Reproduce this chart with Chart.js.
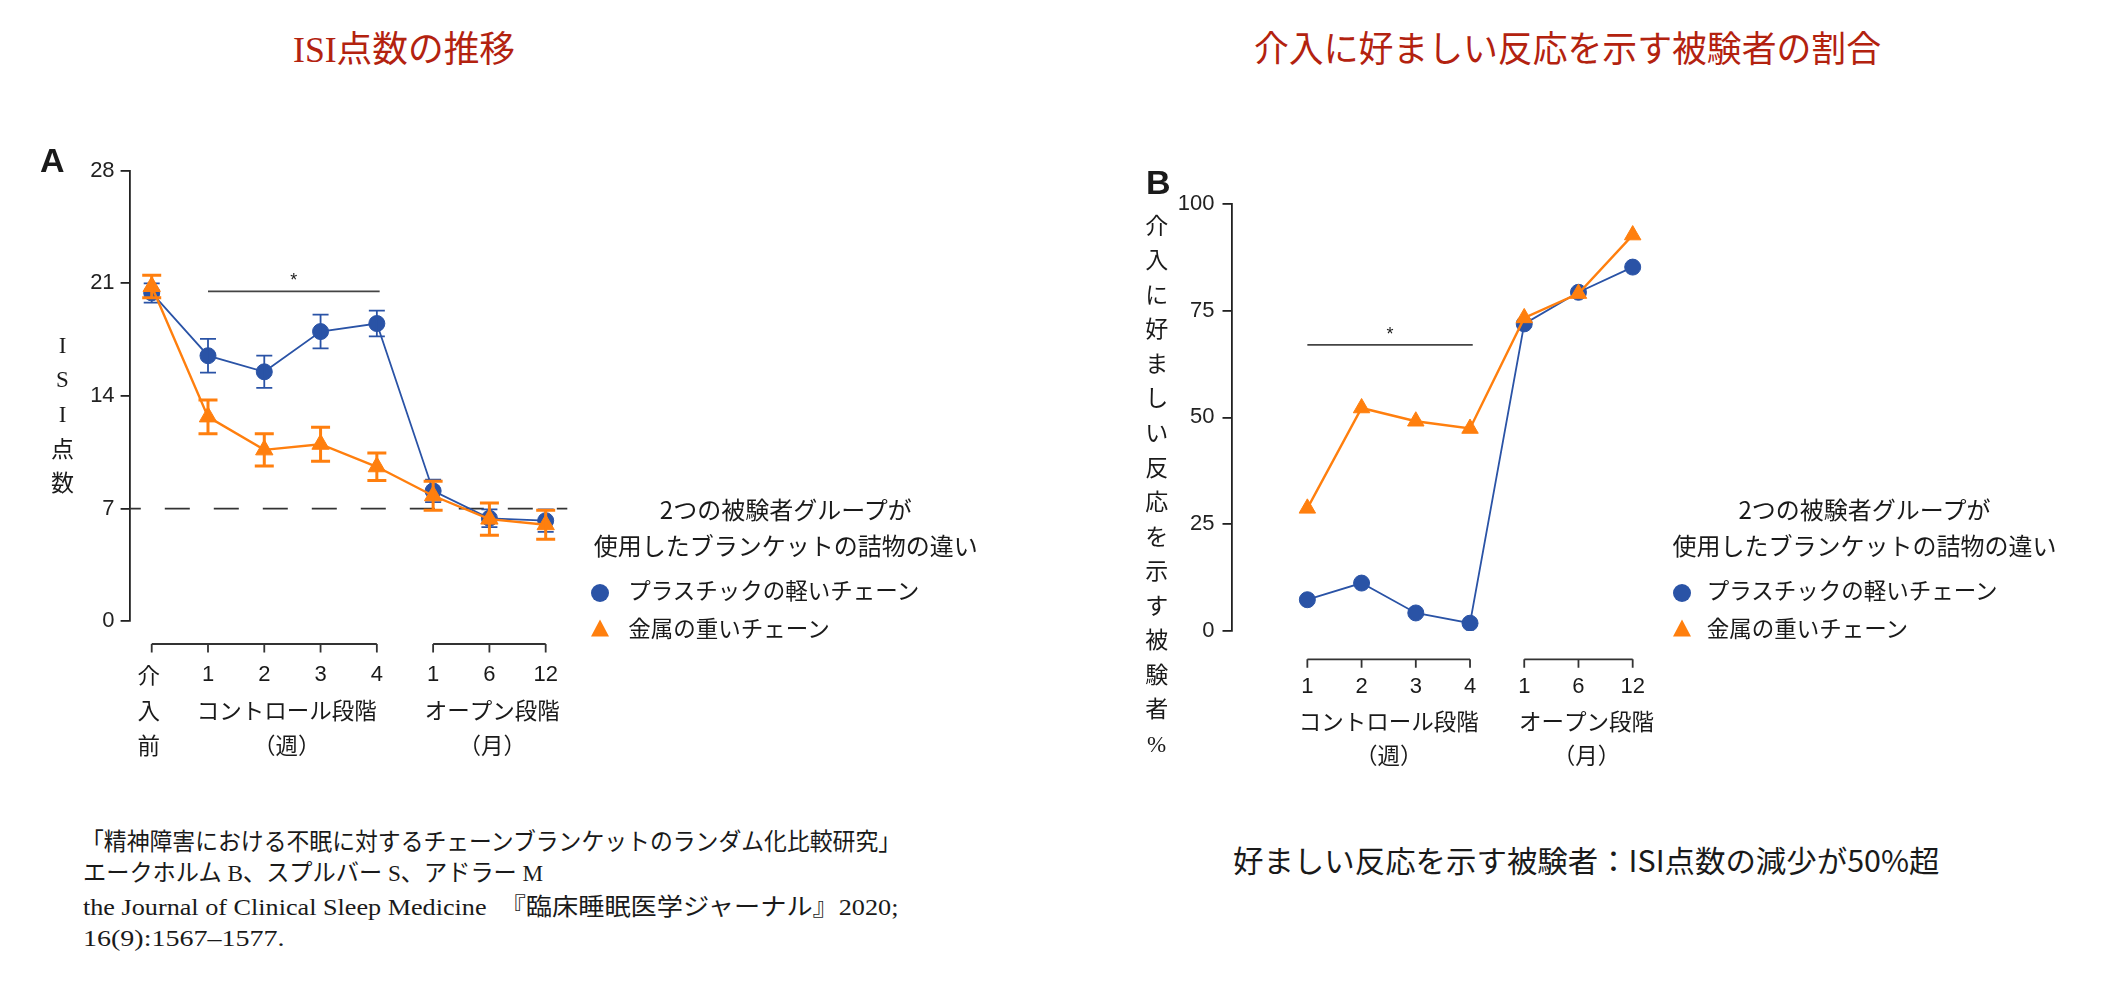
<!DOCTYPE html>
<html>
<head>
<meta charset="utf-8">
<script src="https://cdn.jsdelivr.net/npm/chart.js@4.4.0/dist/chart.umd.min.js"></script>
<style>
  body { margin: 0; width: 2104px; height: 986px; background: #fff; position: relative; overflow: hidden;
         font-family: "Noto Sans CJK JP", sans-serif; color: #1a1a1a; }
  .abs { position: absolute; white-space: nowrap; }
  .title { color: #b3220f; font-family: "Liberation Serif", "Noto Sans CJK JP", serif; font-size: 36px; line-height: 40px; }
  .panel { font-family: "Liberation Sans", Arial, sans-serif; font-weight: bold; font-size: 34px; line-height: 34px; }
  .ytitle { font-family: "Liberation Serif", "Noto Sans CJK JP", serif; font-size: 23px; line-height: 30px;
            transform: translate(-50%, -50%); }
  .lgtitle { font-size: 24px; line-height: 30px; transform: translate(-50%, -50%); }
  .lgitem { font-size: 22.5px; line-height: 30px; transform: translateY(-50%); }
  .dot { width: 18px; height: 18px; border-radius: 50%; transform: translate(-50%, -50%); }
  .tri { width: 0; height: 0; border-left: 9.5px solid transparent; border-right: 9.5px solid transparent;
         border-bottom: 17px solid; transform: translate(-50%, -50%); }
  .cite { font-family: "Liberation Serif", "Noto Sans CJK JP", serif; font-size: 24px; line-height: 30px; transform-origin: left center; }
  .note { font-size: 30px; line-height: 36px; transform-origin: left center; }
  canvas { position: absolute; }
</style>
</head>
<body>
<canvas id="chartA" width="700" height="700" style="left:0px;top:120px"></canvas>
<canvas id="chartB" width="640" height="650" style="left:1100px;top:150px"></canvas>
<div id="overlay"></div>

<script>
// ---------- data ----------
const seriesNames = ['プラスチックの軽いチェーン', '金属の重いチェーン'];
const legendTitle = ['2つの被験者グループが', '使用したブランケットの詰物の違い'];

// Panel A : ISI score
const titleA = 'ISI点数の推移';
const yTitleA = 'ISI点数';
const tickLabelsA = ['介入前', '1', '2', '3', '4', '1', '6', '12'];
const plasticA = [20.4, 16.5, 15.5, 18.0, 18.5, 8.1, 6.4, 6.25];
const plasticErrA = [0.6, 1.05, 1.0, 1.05, 0.8, 0.7, 0.55, 0.7];
const metalA = [20.8, 12.7, 10.65, 11.0, 9.6, 7.8, 6.35, 6.0];
const metalErrA = [0.7, 1.05, 1.0, 1.05, 0.85, 0.9, 1.0, 0.9];
const yTicksA = [0, 7, 14, 21, 28];
const cutoffA = 7;
const sigA = { from: 1, to: 4.05, y: 20.5, label: '*' };
const segmentsA = [[0, 4], [5, 7]];
const groupsA = [
  { name: 'コントロール段階', unit: '（週）', at: 2.4 },
  { name: 'オープン段階', unit: '（月）', at: 6.05 }
];

// Panel B : responders (%)
const titleB = '介入に好ましい反応を示す被験者の割合';
const yTitleB = '介入に好ましい反応を示す被験者%';
const tickLabelsB = ['1', '2', '3', '4', '1', '6', '12'];
const plasticB = [7.3, 11.2, 4.2, 1.8, 71.9, 79.3, 85.2];
const metalB = [28.7, 52.2, 49.1, 47.4, 73.3, 79.0, 92.7];
const yTicksB = [0, 25, 50, 75, 100];
const sigB = { from: 0, to: 3.05, y: 67, label: '*' };
const segmentsB = [[0, 3], [4, 6]];
const groupsB = [
  { name: 'コントロール段階', unit: '（週）', at: 1.5 },
  { name: 'オープン段階', unit: '（月）', at: 5.15 }
];

const citation = [
  '「精神障害における不眠に対するチェーンブランケットのランダム化比較研究」',
  'エークホルム B、スプルバー S、アドラー M',
  'the Journal of Clinical Sleep Medicine　『臨床睡眠医学ジャーナル』2020;',
  '16(9):1567–1577.'
];
const noteB = '好ましい反応を示す被験者：ISI点数の減少が50%超';

const BLUE = '#2a53a6';
const ORANGE = '#ff7f0e';
const INK = '#222';

// ---------- plugin: cutoff line, error bars, bracket x axis ----------
const panelDecor = {
  id: 'panelDecor',
  beforeDatasetsDraw(chart, args, o) {
    if (o.cutoff == null) return;
    const { ctx, chartArea: a, scales: { y } } = chart;
    const py = y.getPixelForValue(o.cutoff);
    ctx.save();
    ctx.strokeStyle = '#333';
    ctx.lineWidth = 1.8;
    ctx.setLineDash([25, 24]);
    ctx.lineDashOffset = 13.8;
    ctx.beginPath();
    ctx.moveTo(a.left, py);
    ctx.lineTo(a.right, py);
    ctx.stroke();
    ctx.restore();
  },
  afterDatasetDraw(chart, args) {
    const ds = chart.data.datasets[args.index];
    if (!ds.errors) return;
    const { ctx, scales: { y } } = chart;
    ctx.save();
    ctx.strokeStyle = ds.borderColor;
    ctx.lineWidth = ds.errWidth;
    args.meta.data.forEach((pt, i) => {
      const v = ds.data[i].y, e = ds.errors[i];
      const top = y.getPixelForValue(v + e);
      const bot = y.getPixelForValue(v - e);
      const hw = ds.capWidth / 2;
      ctx.beginPath();
      ctx.moveTo(pt.x, top); ctx.lineTo(pt.x, bot);
      ctx.moveTo(pt.x - hw, top); ctx.lineTo(pt.x + hw, top);
      ctx.moveTo(pt.x - hw, bot); ctx.lineTo(pt.x + hw, bot);
      ctx.stroke();
    });
    ctx.restore();
  },
  afterDraw(chart, args, o) {
    const { ctx, chartArea: a, scales: { x, y } } = chart;
    ctx.save();
    ctx.strokeStyle = '#333';
    ctx.fillStyle = '#1a1a1a';
    ctx.lineWidth = 1.8;

    // bracket axis
    const by = a.bottom + o.axisGap;
    o.segments.forEach(([s, e]) => {
      ctx.beginPath();
      ctx.moveTo(x.getPixelForValue(s), by);
      ctx.lineTo(x.getPixelForValue(e), by);
      for (let i = s; i <= e; i++) {
        const px = x.getPixelForValue(i);
        ctx.moveTo(px, by);
        ctx.lineTo(px, by + 8.5);
      }
      ctx.stroke();
    });

    // tick labels
    ctx.textAlign = 'center';
    ctx.textBaseline = 'middle';
    o.labels.forEach((lab, i) => {
      const px = x.getPixelForValue(i);
      if (/^\d+$/.test(lab)) {
        ctx.font = '22px "Liberation Sans", Arial, sans-serif';
        ctx.fillText(lab, px, by + o.rows[0]);
      } else {
        ctx.font = '22.5px "Noto Sans CJK JP", sans-serif';
        [...lab].forEach((ch, k) => ctx.fillText(ch, px - 3, by + o.rows[k]));
      }
    });

    // group names
    ctx.font = '22.5px "Noto Sans CJK JP", sans-serif';
    o.groups.forEach(g => {
      const px = x.getPixelForValue(g.at);
      ctx.fillText(g.name, px, by + o.rows[1]);
      ctx.fillText(g.unit, px, by + o.rows[2]);
    });

    // significance bar
    const sy = y.getPixelForValue(o.sig.y);
    ctx.strokeStyle = '#444';
    ctx.lineWidth = 1.8;
    ctx.beginPath();
    ctx.moveTo(x.getPixelForValue(o.sig.from), sy);
    ctx.lineTo(x.getPixelForValue(o.sig.to), sy);
    ctx.stroke();
    ctx.font = '18px "Liberation Sans", Arial, sans-serif';
    ctx.fillText(o.sig.label, x.getPixelForValue((o.sig.from + o.sig.to) / 2), sy - 10);
    ctx.restore();
  }
};

function toPoints(arr) {
  return arr.map((v, i) => ({ x: i, y: v }));
}

function makeChart(id, cfg) {
  const ctx = document.getElementById(id).getContext('2d');
  return new Chart(ctx, {
    type: 'line',
    data: {
      datasets: [
        {
          label: seriesNames[0], data: toPoints(cfg.plastic), errors: cfg.plasticErr,
          errWidth: 1.8, capWidth: 16, order: 2,
          borderColor: BLUE, backgroundColor: BLUE, borderWidth: 1.8,
          pointStyle: 'circle', pointRadius: 8, pointBorderWidth: 1, pointHoverRadius: 8
        },
        {
          label: seriesNames[1], data: toPoints(cfg.metal), errors: cfg.metalErr,
          errWidth: 3, capWidth: 19, order: 1,
          borderColor: ORANGE, backgroundColor: ORANGE, borderWidth: 2.4,
          pointStyle: 'triangle', pointRadius: cfg.triRadius, pointBorderWidth: 1, pointHoverRadius: cfg.triRadius
        }
      ]
    },
    options: {
      responsive: false,
      animation: false,
      layout: { padding: cfg.padding },
      plugins: {
        legend: { display: false },
        tooltip: { enabled: false },
        panelDecor: cfg.decor
      },
      scales: {
        x: { type: 'linear', display: false, min: cfg.xMin, max: cfg.xMax },
        y: {
          min: cfg.yTicks[0], max: cfg.yTicks[cfg.yTicks.length - 1],
          afterBuildTicks: s => { s.ticks = cfg.yTicks.map(v => ({ value: v })); },
          afterFit: s => { s.width = cfg.yWidth; },
          border: { display: true, color: INK, width: 1.8 },
          grid: { drawOnChartArea: false, drawTicks: true, tickLength: 9, color: INK, lineWidth: 1.8 },
          ticks: { color: INK, padding: cfg.tickPad, font: { family: '"Liberation Sans", Arial, sans-serif', size: 22 } }
        }
      }
    },
    plugins: [panelDecor]
  });
}

makeChart('chartA', {
  plastic: plasticA, plasticErr: plasticErrA, metal: metalA, metalErr: metalErrA,
  yTicks: yTicksA, xMin: -0.393, xMax: 7.384, yWidth: 129.6, tickPad: 6, triRadius: 10,
  padding: { left: 0, top: 50.6, right: 132.7, bottom: 198.7 },
  decor: { cutoff: cutoffA, sig: sigA, segments: segmentsA, groups: groupsA, labels: tickLabelsA,
           axisGap: 22.7, rows: [31, 66, 101] }
});

makeChart('chartB', {
  plastic: plasticB, plasticErr: null, metal: metalB, metalErr: null,
  yTicks: yTicksB, xMin: -1.399, xMax: 6.5, yWidth: 131.5, tickPad: 8, triRadius: 9.5,
  padding: { left: 0, top: 53.9, right: 80.2, bottom: 169.1 },
  decor: { cutoff: null, sig: sigB, segments: segmentsB, groups: groupsB, labels: tickLabelsB,
           axisGap: 28.4, rows: [27.4, 62.4, 95.7] }
});

// ---------- text around the charts ----------
const overlay = document.getElementById('overlay');
function add(cls, text, style) {
  const d = document.createElement('div');
  d.className = 'abs ' + cls;
  d.textContent = text;
  Object.assign(d.style, style);
  overlay.appendChild(d);
  return d;
}
function fitWidth(el, w, extra) {
  el.style.transform = `${extra || ''} scaleX(${w / el.offsetWidth})`;
}

// titles
const tA = add('title', titleA, { left: '293px', top: '30px', transformOrigin: 'left center' });
const tB = add('title', titleB, { left: '1254px', top: '30px', transformOrigin: 'left center' });
fitWidth(tA, 222);
fitWidth(tB, 627);

// panel letters
add('panel', 'A', { left: '40px', top: '142.5px' });
add('panel', 'B', { left: '1146px', top: '164.5px' });

// vertical axis titles
function vertical(text, cx, cy0, step) {
  [...text].forEach((ch, k) => {
    add('ytitle', ch, { left: cx + 'px', top: (cy0 + k * step) + 'px' });
  });
}
vertical(yTitleA, 62.5, 345.6, 34.7);
vertical(yTitleB, 1156.7, 226.7, 34.55);

// legends
function legend(cx, mx, tx) {
  add('lgtitle', legendTitle[0], { left: cx + 'px', top: '508.5px' });
  add('lgtitle', legendTitle[1], { left: cx + 'px', top: '545px' });
  add('dot', '', { left: mx + 'px', top: '593px', background: BLUE });
  add('tri', '', { left: mx + 'px', top: '628px', borderBottomColor: ORANGE });
  add('lgitem', seriesNames[0], { left: tx + 'px', top: '589px' });
  add('lgitem', seriesNames[1], { left: tx + 'px', top: '627px' });
}
legend(785.8, 600, 628.3);
legend(1864.5, 1681.7, 1706.7);

// citation
const citeY = [841.7, 873.3, 906.7, 938.3];
const citeX = [81, 83.3, 83.3, 83.3];
const citeW = [820, 460, 815, 202];
citation.forEach((line, i) => {
  const el = add('cite', line, { left: citeX[i] + 'px', top: (citeY[i] - 15) + 'px' });
  fitWidth(el, citeW[i]);
});

const n = add('note', noteB, { left: '1233px', top: '841px' });
fitWidth(n, 706);
</script>
</body>
</html>
